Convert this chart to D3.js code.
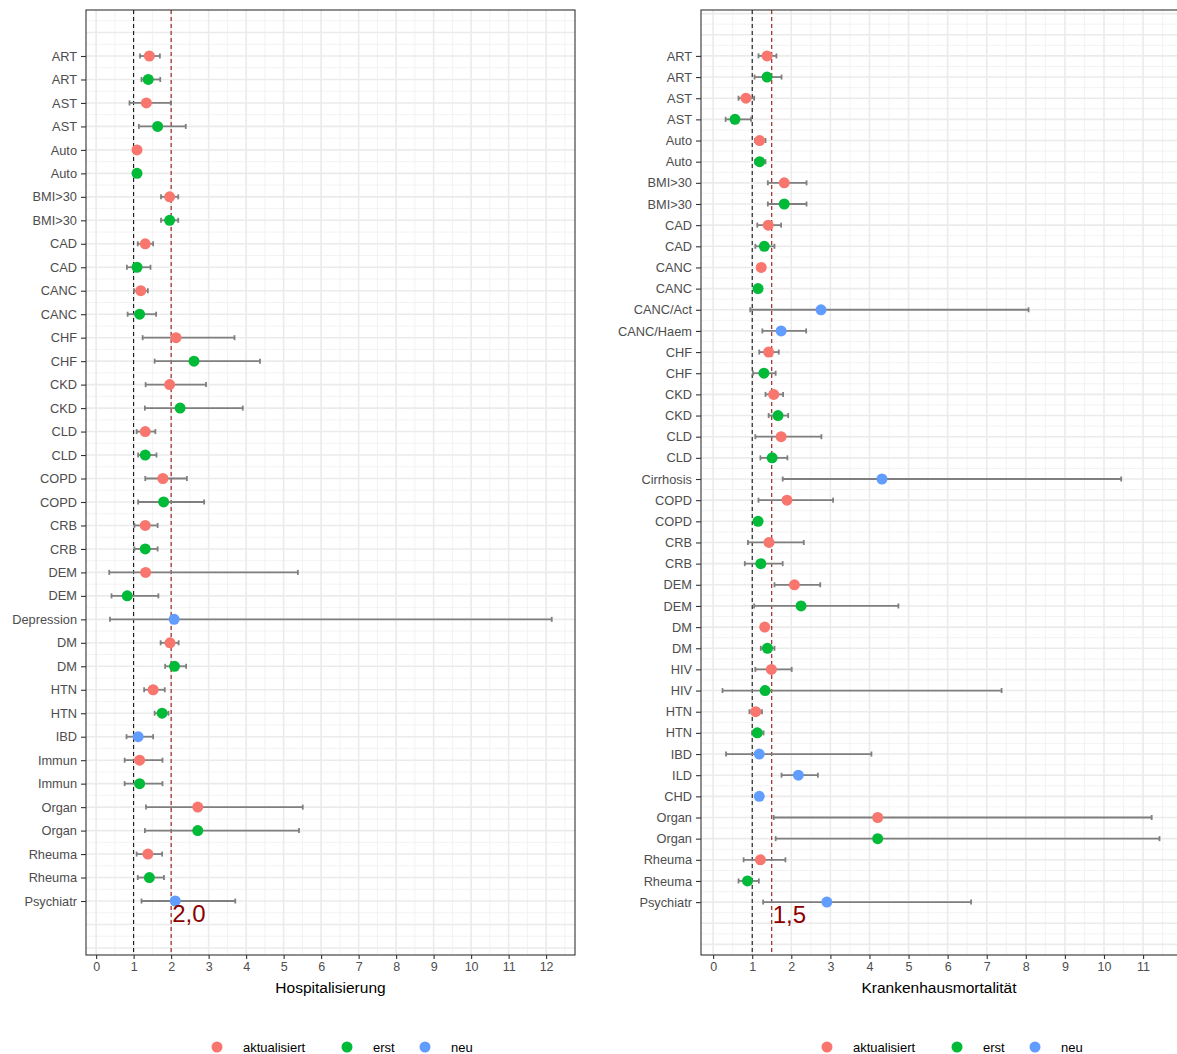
<html>
<head>
<script src="https://cdnjs.cloudflare.com/ajax/libs/d3/7.8.5/d3.min.js"></script>
<style>
  body { margin: 0; background: white; }
  svg { font-family: "Liberation Sans", Arial, sans-serif; }
</style>
</head>
<body>
<script>
// Hospitalisierung panel
var hospLabels = ["ART","ART","AST","AST","Auto","Auto","BMI>30","BMI>30","CAD","CAD","CANC","CANC",
  "CHF","CHF","CKD","CKD","CLD","CLD","COPD","COPD","CRB","CRB","DEM","DEM","Depression","DM","DM",
  "HTN","HTN","IBD","Immun","Immun","Organ","Organ","Rheuma","Rheuma","Psychiatr"];
var hospGroup = ["a","e","a","e","a","e","a","e","a","e","a","e",
  "a","e","a","e","a","e","a","e","a","e","a","e","n","a","e",
  "a","e","n","a","e","a","e","a","e","n"];
var hospEst  = [1.42,1.39,1.34,1.64,1.09,1.09,1.96,1.96,1.31,1.09,1.19,1.16,
  2.13,2.61,1.96,2.24,1.31,1.31,1.78,1.80,1.31,1.31,1.32,0.83,2.08,1.97,2.09,
  1.52,1.76,1.12,1.16,1.16,2.71,2.71,1.38,1.42,2.11];
var hospLow  = [1.17,1.21,0.89,1.14,1.05,1.05,1.73,1.73,1.11,0.82,1.01,0.84,
  1.24,1.56,1.32,1.30,1.08,1.12,1.31,1.12,1.02,1.02,0.35,0.41,0.37,1.72,1.84,
  1.28,1.56,0.81,0.76,0.76,1.33,1.30,1.08,1.11,1.21];
var hospHigh = [1.70,1.71,1.99,2.39,1.13,1.13,2.19,2.19,1.52,1.45,1.38,1.60,
  3.69,4.37,2.93,3.91,1.58,1.61,2.42,2.88,1.64,1.64,5.38,1.66,12.15,2.20,2.40,
  1.83,1.93,1.52,1.77,1.77,5.51,5.41,1.76,1.81,3.71];

// Krankenhausmortalität panel
var mortLabels = ["ART","ART","AST","AST","Auto","Auto","BMI>30","BMI>30","CAD","CAD","CANC","CANC",
  "CANC/Act","CANC/Haem","CHF","CHF","CKD","CKD","CLD","CLD","Cirrhosis","COPD","COPD","CRB","CRB",
  "DEM","DEM","DM","DM","HIV","HIV","HTN","HTN","IBD","ILD","CHD","Organ","Organ","Rheuma","Rheuma","Psychiatr"];
var mortGroup = ["a","e","a","e","a","e","a","e","a","e","a","e",
  "n","n","a","e","a","e","a","e","n","a","e","a","e",
  "a","e","a","e","a","e","a","e","n","n","n","a","e","a","e","n"];
var mortEst  = [1.38,1.38,0.84,0.56,1.19,1.19,1.82,1.82,1.41,1.31,1.23,1.15,
  2.76,1.74,1.42,1.30,1.55,1.66,1.74,1.51,4.32,1.89,1.15,1.43,1.22,
  2.08,2.25,1.32,1.39,1.49,1.33,1.09,1.13,1.18,2.18,1.18,4.21,4.21,1.21,0.88,2.91];
var mortLow  = [1.16,1.06,0.65,0.32,1.07,1.07,1.40,1.40,1.13,1.08,1.18,1.10,
  0.95,1.26,1.18,1.02,1.34,1.42,1.08,1.21,1.78,1.16,1.10,0.89,0.81,
  1.57,1.05,1.27,1.22,1.08,0.24,0.93,1.00,0.33,1.75,1.13,1.55,1.60,0.78,0.65,1.28];
var mortHigh = [1.62,1.75,1.05,0.97,1.34,1.34,2.39,2.39,1.74,1.57,1.28,1.20,
  8.07,2.38,1.68,1.60,1.79,1.92,2.77,1.90,10.44,3.07,1.20,2.32,1.78,
  2.74,4.74,1.37,1.57,2.01,7.38,1.25,1.29,4.05,2.68,1.23,11.22,11.42,1.85,1.17,6.60];

var groupKeys   = ["a","e","n"];
var groupNames  = ["aktualisiert","erst","neu"];
var groupColors = ["#F8766D","#00BA38","#619CFF"];

var W = 1177, H = 1054;
var svg = d3.select("body").append("svg").attr("width", W).attr("height", H);

var color = d3.scaleOrdinal().domain(groupKeys).range(groupColors);

function drawPanel(p) {
  var x = d3.scaleLinear().domain(p.xDomain).range([p.left, p.right]);
  var n = p.labels.length;
  var y = d3.scaleLinear().domain(p.yDomain).range([p.top, p.bottom]);

  var clipId = "clip" + p.id;
  svg.append("clipPath").attr("id", clipId).append("rect")
    .attr("x", p.left).attr("y", p.top)
    .attr("width", p.right - p.left).attr("height", p.bottom - p.top);

  var g = svg.append("g");
  var grid = g.append("g").attr("clip-path", "url(#" + clipId + ")");

  // minor grid
  var xMinor = d3.range(Math.floor(p.xDomain[0]), Math.ceil(p.xDomain[1]) + 1).map(function (v) { return v + 0.5; });
  var yMinor = d3.range(-3, n + 4).map(function (v) { return v + 0.5; });
  grid.selectAll(".xm").data(xMinor).enter().append("line")
    .attr("x1", d => x(d)).attr("x2", d => x(d))
    .attr("y1", p.top).attr("y2", p.bottom)
    .attr("stroke", "#F2F2F2").attr("stroke-width", 0.9);
  grid.selectAll(".ym").data(yMinor).enter().append("line")
    .attr("y1", d => y(d)).attr("y2", d => y(d))
    .attr("x1", p.left).attr("x2", p.right)
    .attr("stroke", "#F2F2F2").attr("stroke-width", 0.9);

  // major grid
  var xMajor = d3.range(Math.ceil(p.xDomain[0]), Math.floor(p.xDomain[1]) + 1);
  var yMajor = d3.range(-3, n + 4);
  grid.selectAll(".xM").data(xMajor).enter().append("line")
    .attr("x1", d => x(d)).attr("x2", d => x(d))
    .attr("y1", p.top).attr("y2", p.bottom)
    .attr("stroke", "#EBEBEB").attr("stroke-width", 1.6);
  grid.selectAll(".yM").data(yMajor).enter().append("line")
    .attr("y1", d => y(d)).attr("y2", d => y(d))
    .attr("x1", p.left).attr("x2", p.right)
    .attr("stroke", "#EBEBEB").attr("stroke-width", 1.6);

  // reference lines
  g.append("line")
    .attr("x1", x(1)).attr("x2", x(1)).attr("y1", p.top).attr("y2", p.bottom)
    .attr("stroke", "#000").attr("stroke-width", 1).attr("stroke-dasharray", "4,3");
  g.append("line")
    .attr("x1", x(p.ref)).attr("x2", x(p.ref)).attr("y1", p.top).attr("y2", p.bottom)
    .attr("stroke", "#8B0000").attr("stroke-width", 1).attr("stroke-dasharray", "4,3");

  var rows = p.labels.map(function (l, i) {
    return { i: i, label: l, grp: p.group[i], est: p.est[i], lo: p.low[i], hi: p.high[i] };
  });

  // error bars
  var eb = g.append("g").attr("stroke", "#7F7F7F").attr("stroke-width", 1.8);
  eb.selectAll(".bar").data(rows).enter().append("line")
    .attr("x1", d => x(d.lo)).attr("x2", d => x(d.hi))
    .attr("y1", d => y(d.i)).attr("y2", d => y(d.i));
  eb.selectAll(".capl").data(rows).enter().append("line")
    .attr("x1", d => x(d.lo)).attr("x2", d => x(d.lo))
    .attr("y1", d => y(d.i) - 2.5).attr("y2", d => y(d.i) + 2.5);
  eb.selectAll(".caph").data(rows).enter().append("line")
    .attr("x1", d => x(d.hi)).attr("x2", d => x(d.hi))
    .attr("y1", d => y(d.i) - 2.5).attr("y2", d => y(d.i) + 2.5);

  // points
  g.selectAll(".pt").data(rows).enter().append("circle")
    .attr("cx", d => x(d.est)).attr("cy", d => y(d.i)).attr("r", 5.5)
    .attr("fill", d => color(d.grp));

  // annotation
  g.append("text")
    .attr("x", x(p.ref) + 1).attr("y", p.textY)
    .attr("fill", "#8B0000").style("font-size", "24px")
    .text(p.refText);

  // border
  g.append("rect")
    .attr("x", p.left).attr("y", p.top)
    .attr("width", p.right - p.left).attr("height", p.bottom - p.top)
    .attr("fill", "none").attr("stroke", "#333333").attr("stroke-width", 1.1);

  // axes
  var xAxis = d3.axisBottom(x).tickValues(xMajor).tickSize(4).tickPadding(3);
  var xg = g.append("g").attr("transform", "translate(0," + p.bottom + ")").call(xAxis);
  var yAxis = d3.axisLeft(y).tickValues(d3.range(n)).tickFormat(i => p.labels[i]).tickSize(5).tickPadding(4);
  var yg = g.append("g").attr("transform", "translate(" + p.left + ",0)").call(yAxis);
  [xg, yg].forEach(function (a) {
    a.select(".domain").remove();
    a.selectAll(".tick line").attr("stroke", "#333333").attr("stroke-width", 1.1);
    a.selectAll(".tick text").attr("fill", "#4D4D4D").style("font-size", "12.8px")
      .style("font-family", "Liberation Sans, Arial, sans-serif");
  });
  xg.selectAll(".tick text").style("font-size", "12.5px");

  g.append("text")
    .attr("x", (p.left + Math.min(p.right, W)) / 2 + p.titleShift).attr("y", 993)
    .attr("text-anchor", "middle").attr("fill", "#000").style("font-size", "15.5px")
    .text(p.title);

  // legend
  var lg = g.append("g").attr("transform", "translate(" + p.legendX + ",1047)");
  var offs = [0, 130, 208];
  groupKeys.forEach(function (k, j) {
    lg.append("circle").attr("cx", offs[j]).attr("cy", 0).attr("r", 5.5).attr("fill", color(k));
    lg.append("text").attr("x", offs[j] + 26).attr("y", 4.5)
      .attr("fill", "#000").style("font-size", "13px").text(groupNames[j]);
  });
}

drawPanel({
  id: 1, left: 86, right: 575, top: 10, bottom: 955,
  xDomain: [-0.27, 12.77], yDomain: [-1.96, 38.3],
  labels: hospLabels, group: hospGroup, est: hospEst, low: hospLow, high: hospHigh,
  ref: 2, refText: "2,0", textY: 922, title: "Hospitalisierung", titleShift: 0, legendX: 217
});

drawPanel({
  id: 2, left: 701, right: 1181, top: 10, bottom: 955,
  xDomain: [-0.31, 11.97], yDomain: [-2.17, 42.5],
  labels: mortLabels, group: mortGroup, est: mortEst, low: mortLow, high: mortHigh,
  ref: 1.5, refText: "1,5", textY: 923, title: "Krankenhausmortalität", titleShift: 0, legendX: 827
});
</script>
</body>
</html>
